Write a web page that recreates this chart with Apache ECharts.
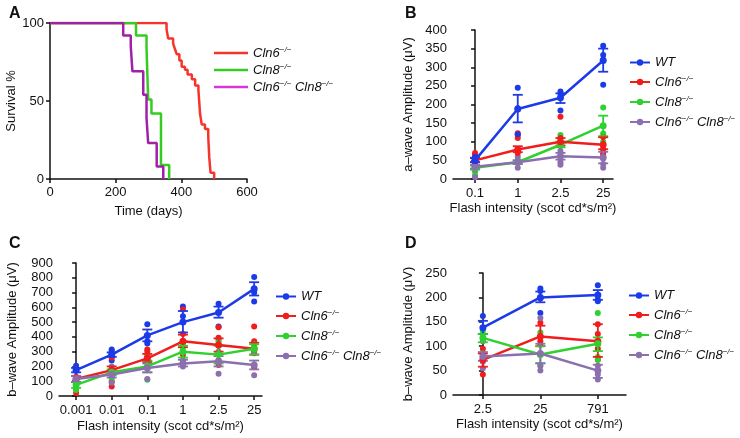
<!DOCTYPE html>
<html><head><meta charset="utf-8">
<script src="https://cdn.jsdelivr.net/npm/echarts@6/dist/echarts.min.js"></script>
<style>html,body{margin:0;padding:0;background:#fff}#c{width:740px;height:438px}</style>
</head><body><div id="c"></div>
<script>
// ---------- Panel A: survival (Kaplan-Meier steps) ----------
const survCln6 = [[0,100],[355,96],[360,90],[375,87],[381,83],[386,80],[394,76],[401,72],[411,70],[419,67],[432,64],[442,60],[452,57],[457,42],[462,35],[472,32],[482,27],[485,14],[489,4],[500,0]];
const survCln8 = [[0,100],[262,92],[294,84],[299,51],[309,42],[338,9],[363,0]];
const survDKO  = [[0,100],[223,92],[246,85],[251,69],[284,54],[294,39],[299,23],[325,8],[345,0]];

// ---------- Panel B: a-wave ----------
const bCats = ['0.1','1','2.5','25'];
const bWTMean = [50,188,218,318];
const bWTErr = [[45,57],[152,226],[204,230],[288,350]];
const bWTPts = [[60,55,45],[245,190,120],[235,228,184],[358,333,320,253]];
const bCln6Mean = [50,79,100,92];
const bCln6Err = [[45,56],[72,88],[90,110],[80,112]];
const bCln6Pts = [[70,65,55],[123,118,110,75,70],[167,110,90],[113,80,70,65]];
const bCln8Mean = [30,45,92,143];
const bCln8Err = [[25,36],[40,50],[85,100],[115,170]];
const bCln8Pts = [[40,20,10],[50,45],[118,110,90],[192,122,100]];
const bDKOMean = [33,45,61,58];
const bDKOErr = [[28,38],[40,50],[52,70],[42,73]];
const bDKOPts = [[40,25,5],[60,50,30],[75,60,45,38],[80,55,40,30]];

// ---------- Panel C: b-wave scotopic ----------
const cCats = ['0.001','0.01','0.1','1','2.5','25'];
const cWTMean = [175,280,410,500,565,725];
const cWTErr = [[160,190],[265,295],[370,450],[430,575],[530,605],[680,770]];
const cWTPts = [[205,195],[315,305,240],[485,370,355],[605,540,500],[625,470],[805,715,700,640]];
const cCln6Mean = [115,175,255,370,345,320];
const cCln6Err = [[95,135],[150,200],[230,285],[330,415],[300,390],[280,360]];
const cCln6Pts = [[180,130,50,20],[265,260,100,65],[315,300,270],[585,420,300,280],[465,395,380,240,210],[470,370,300,195]];
const cCln8Mean = [75,160,200,300,280,320];
const cCln8Err = [[55,95],[140,180],[160,240],[260,340],[220,340],[280,350]];
const cCln8Pts = [[75,40],[130,120],[270,110],[355,330],[365,340,230],[350,330,310]];
const cDKOMean = [115,145,190,220,235,210];
const cDKOErr = [[95,135],[125,165],[160,220],[200,245],[200,270],[180,240]];
const cDKOPts = [[175,110,70],[200,170,90],[230,115],[240,200],[300,150],[290,140]];

// ---------- Panel D: b-wave photopic ----------
const dCats = ['2.5','25','791'];
const dWTMean = [138,200,205];
const dWTErr = [[125,152],[190,212],[195,215]];
const dWTPts = [[162,115],[218,213,168],[225,195,192]];
const dCln6Mean = [72,120,110];
const dCln6Err = [[58,85],[100,142],[78,145]];
const dCln6Pts = [[95,73,42],[198,148,110,103],[145,125,95,72]];
const dCln8Mean = [117,83,105];
const dCln8Err = [[108,125],[65,100],[90,118]];
const dCln8Pts = [[132,125,85],[128,60],[168,78,72]];
const dDKOMean = [79,85,50];
const dDKOErr = [[70,88],[65,105],[35,62]];
const dDKOPts = [[110,68,55],[158,60,50],[60,42,32]];

const FONT = 'Liberation Sans, Arial, Helvetica, sans-serif';
const COL = {WT:'#1b3be8', Cln6:'#f01d1d', Cln8:'#2fd12f', DKO:'#8c6fae'};
const LBL = {
  WT:'{i|WT}',
  Cln6:'{i|Cln6}{s|−/−}',
  Cln8:'{i|Cln8}{s|−/−}',
  DKO:'{i|Cln6}{s|−/−} {i|Cln8}{s|−/−}'
};
const rich = {
  i:{fontStyle:'italic', fontSize:13, fontFamily:FONT, color:'#111', lineHeight:14},
  s:{fontStyle:'italic', fontSize:8, fontFamily:FONT, color:'#111', padding:[0,0,6,0], lineHeight:14}
};

const axLine = {show:true, lineStyle:{color:'#111', width:1.5}};
const axTick = {show:true, length:4, inside:false, lineStyle:{color:'#111', width:1.5}};
const axLab = {color:'#111', fontSize:13, fontFamily:FONT};
const nameStyle = {color:'#111', fontSize:13, fontFamily:FONT};

function catAxis(grid, cats, min, max, gap) {
  const vals = cats.map((_, i) => i);
  return {
    type:'value', gridIndex:grid, min:min, max:max,
    axisLine:axLine,
    axisTick:Object.assign({}, axTick, {customValues:vals}),
    axisLabel:Object.assign({}, axLab, {customValues:vals, margin:8, formatter:v => cats[Math.round(v)]}),
    splitLine:{show:false},
    name:'Flash intensity (scot cd*s/m²)', nameLocation:'middle', nameGap:gap, nameTextStyle:nameStyle
  };
}
function valAxis(grid, max, interval, name, gap) {
  return {
    type:'value', gridIndex:grid, min:0, max:max, interval:interval,
    axisLine:axLine, axisTick:axTick,
    axisLabel:Object.assign({}, axLab, {margin:6}),
    splitLine:{show:false},
    name:name, nameLocation:'middle', nameGap:gap, nameTextStyle:nameStyle
  };
}

function renderErr(params, api) {
  const x = api.value(0), lo = api.value(1), hi = api.value(2);
  const p1 = api.coord([x, lo]), p2 = api.coord([x, hi]);
  const w = 5;
  const style = {stroke: api.visual('color'), lineWidth: 1.8};
  return {type:'group', children:[
    {type:'line', shape:{x1:p1[0], y1:p1[1], x2:p2[0], y2:p2[1]}, style:style},
    {type:'line', shape:{x1:p1[0]-w, y1:p1[1], x2:p1[0]+w, y2:p1[1]}, style:style},
    {type:'line', shape:{x1:p2[0]-w, y1:p2[1], x2:p2[0]+w, y2:p2[1]}, style:style}
  ]};
}

function panelSeries(prefix, axisIdx, groups) {
  const pts = [], errs = [], lines = [];
  groups.forEach(g => {
    const [key, mean, err, raw] = g;
    const color = COL[key];
    const scat = [];
    raw.forEach((arr, i) => arr.forEach(v => scat.push([i, v])));
    pts.push({type:'scatter', name:prefix+'pts'+key, xAxisIndex:axisIdx, yAxisIndex:axisIdx,
      data:scat, symbolSize:6, itemStyle:{color:color, opacity:1}, z:2, silent:true});
    errs.push({type:'custom', name:prefix+'err'+key, xAxisIndex:axisIdx, yAxisIndex:axisIdx,
      data:err.map((e, i) => [i, e[0], e[1]]), encode:{x:0, y:[1,2]},
      renderItem:renderErr, itemStyle:{color:color}, z:3, silent:true});
    lines.push({type:'line', name:prefix+':'+key, xAxisIndex:axisIdx, yAxisIndex:axisIdx,
      data:mean.map((m, i) => [i, m]), symbol:'circle', symbolSize:7, showSymbol:true,
      lineStyle:{color:color, width:2.5}, itemStyle:{color:color}, z:4, silent:true});
  });
  return pts.concat(errs, lines);
}

function panelLegend(prefix, left, top) {
  return {
    left:left, top:top, orient:'vertical', itemWidth:20, itemHeight:8, itemGap:6,
    selectedMode:false,
    data:['WT','Cln6','Cln8','DKO'].map(k => prefix+':'+k),
    formatter:name => LBL[name.split(':')[1]],
    textStyle:{rich:rich, fontFamily:FONT, fontSize:13}
  };
}

const series = [
  {type:'line', name:'A:Cln6', xAxisIndex:0, yAxisIndex:0, data:survCln6, step:'end', symbol:'none',
    lineStyle:{color:'#f5352b', width:2.5}, itemStyle:{color:'#f5352b'}, z:3},
  {type:'line', name:'A:Cln8', xAxisIndex:0, yAxisIndex:0, data:survCln8, step:'end', symbol:'none',
    lineStyle:{color:'#35cc22', width:2.5}, itemStyle:{color:'#35cc22'}, z:3},
  {type:'line', name:'A:DKO', xAxisIndex:0, yAxisIndex:0, data:survDKO, step:'end', symbol:'none',
    lineStyle:{color:'#a021a8', width:2.5}, itemStyle:{color:'#a021a8'}, z:4}
].concat(
  panelSeries('B', 1, [['Cln8',bCln8Mean,bCln8Err,bCln8Pts],['DKO',bDKOMean,bDKOErr,bDKOPts],['Cln6',bCln6Mean,bCln6Err,bCln6Pts],['WT',bWTMean,bWTErr,bWTPts]]),
  panelSeries('C', 2, [['WT',cWTMean,cWTErr,cWTPts],['Cln6',cCln6Mean,cCln6Err,cCln6Pts],['Cln8',cCln8Mean,cCln8Err,cCln8Pts],['DKO',cDKOMean,cDKOErr,cDKOPts]]),
  panelSeries('D', 3, [['WT',dWTMean,dWTErr,dWTPts],['Cln6',dCln6Mean,dCln6Err,dCln6Pts],['Cln8',dCln8Mean,dCln8Err,dCln8Pts],['DKO',dDKOMean,dDKOErr,dDKOPts]])
);

const titleStyle = {fontSize:16, fontWeight:'bold', fontFamily:FONT, color:'#111'};
const option = {
  animation:false,
  backgroundColor:'#fff',
  title:[
    {text:'A', left:4, top:1, textStyle:titleStyle},
    {text:'B', left:400, top:1, textStyle:titleStyle},
    {text:'C', left:4, top:231, textStyle:titleStyle},
    {text:'D', left:400, top:231, textStyle:titleStyle}
  ],
  grid:[
    {left:50, top:23, width:197, height:156},
    {left:453, top:30, width:160, height:149},
    {left:59, top:263, width:203, height:133},
    {left:453, top:273, width:173, height:122}
  ],
  xAxis:[
    {type:'value', gridIndex:0, min:0, max:600, interval:200, axisLine:axLine, axisTick:axTick,
      axisLabel:Object.assign({}, axLab, {margin:7}), splitLine:{show:false},
      name:'Time (days)', nameLocation:'middle', nameGap:26, nameTextStyle:nameStyle},
    catAxis(1, bCats, -0.516, 3.23, 23),
    catAxis(2, cCats, -0.48, 5.22, 24),
    catAxis(3, dCats, -0.52, 2.49, 23)
  ],
  yAxis:[
    valAxis(0, 100, 50, 'Survival %', 30),
    valAxis(1, 400, 50, 'a–wave Amplitude (μV)', 38),
    valAxis(2, 900, 100, 'b–wave Amplitude (μV)', 40),
    valAxis(3, 250, 50, 'b–wave Amplitude (μV)', 38)
  ],
  legend:[
    {left:209, top:41, orient:'vertical', itemWidth:34, itemHeight:2.5, itemGap:3, selectedMode:false,
      icon:'rect',
      data:[{name:'A:Cln6'},{name:'A:Cln8'},{name:'A:DKO', itemStyle:{color:'#d43ad4'}}],
      formatter:name => LBL[name.split(':')[1]],
      textStyle:{rich:rich, fontFamily:FONT, fontSize:13}},
    panelLegend('B', 624, 51),
    panelLegend('C', 270, 285),
    panelLegend('D', 623, 284)
  ],
  series:series
};

const chart = echarts.init(document.getElementById('c'), null, {renderer:'canvas'});
chart.setOption(option);
</script>
</body></html>
